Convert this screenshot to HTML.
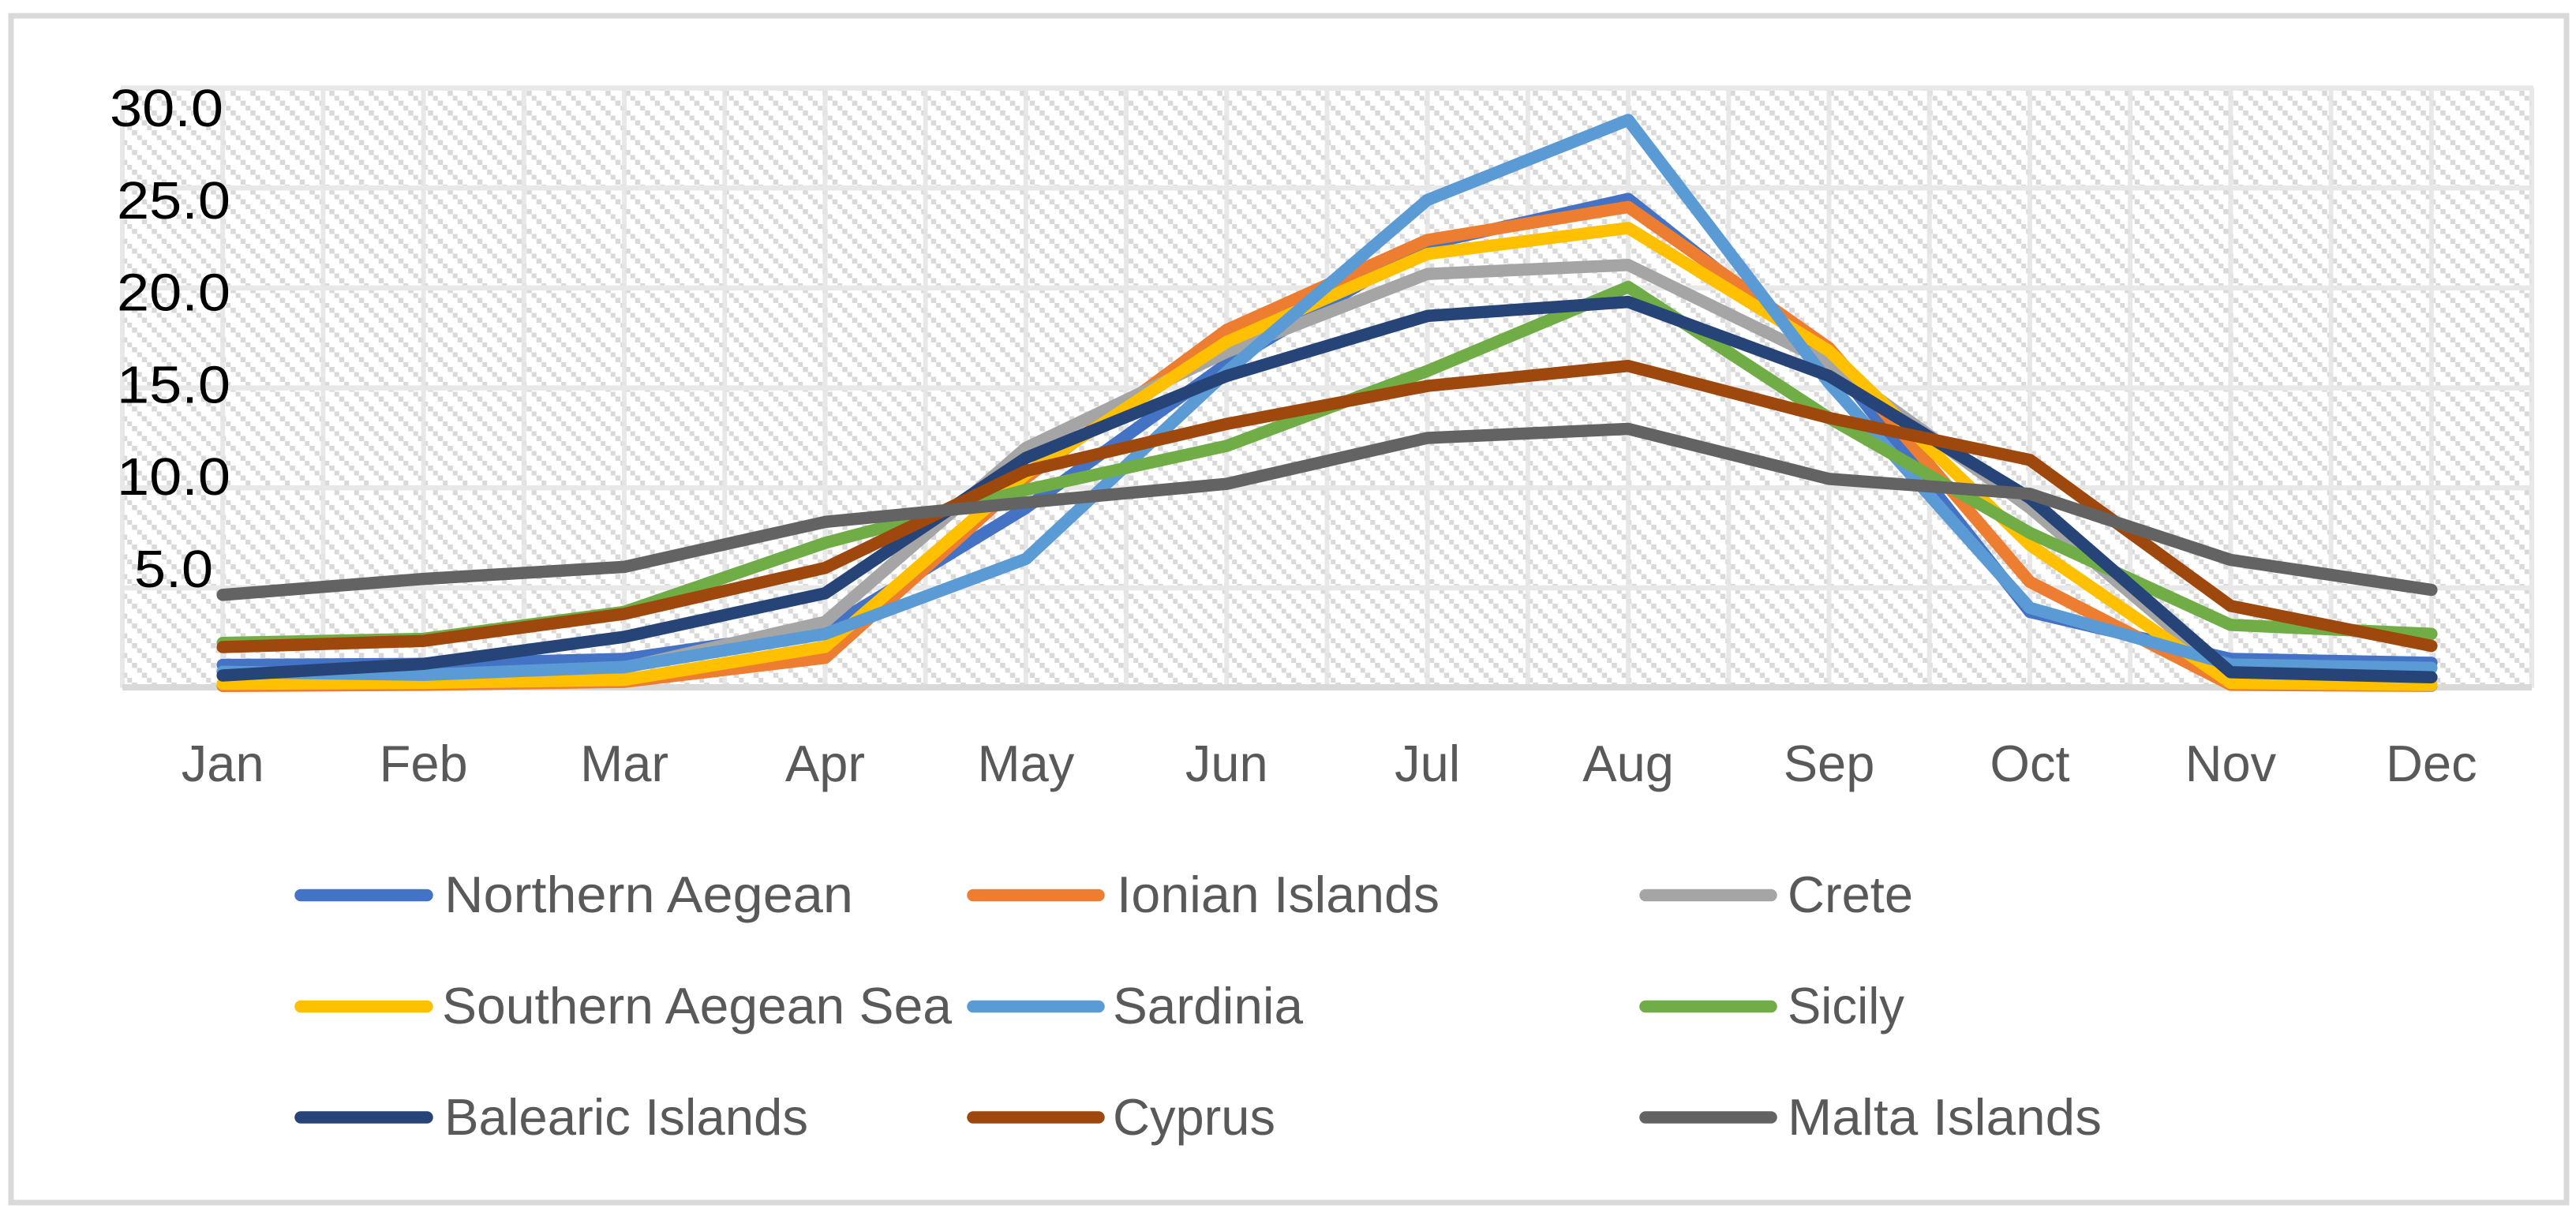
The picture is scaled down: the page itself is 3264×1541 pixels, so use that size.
<!DOCTYPE html>
<html lang="en">
<head>
<meta charset="utf-8">
<title>Monthly values by island region</title>
<style>
html,body{margin:0;padding:0;background:#fff;width:3264px;height:1541px;overflow:hidden}
svg{display:block}
text{font-family:"Liberation Sans",sans-serif}
.leg{font-size:65px;fill:#595959}
</style>
</head>
<body>
<svg id="chart" xmlns="http://www.w3.org/2000/svg" width="3264" height="1541" viewBox="0 0 3264 1541">
  <defs>
    <pattern id="hatch" x="142.25" y="115" width="25" height="25" patternUnits="userSpaceOnUse">
      <rect width="25" height="25" fill="#fff"/>
      <g fill="#d9d9d9" shape-rendering="crispEdges">
        <rect x="0" y="0" width="6.25" height="6.25"/>
        <rect x="6.25" y="6.25" width="6.25" height="6.25"/>
        <rect x="12.5" y="12.5" width="6.25" height="6.25"/>
        <rect x="18.75" y="18.75" width="6.25" height="6.25"/>
      </g>
    </pattern>
  </defs>
  <rect x="14" y="20" width="3238" height="1504" fill="#fff" stroke="#d9d9d9" stroke-width="7"/>
  <rect x="155" y="111" width="3053" height="760" fill="url(#hatch)"/>
  <g id="grid"></g>
  <g id="yaxis"></g>
  <g id="xaxis"></g>
  <g id="series" fill="none" stroke-width="15.5" stroke-linecap="round" stroke-linejoin="round"></g>

  <g>
    <g>
      <line x1="381" y1="1134.5" x2="541" y2="1134.5" stroke="#4472C4" stroke-width="15.5" stroke-linecap="round"/>
      <text class="leg" x="563" y="1156" textLength="518" lengthAdjust="spacingAndGlyphs">Northern Aegean</text>
    </g>
    <g>
      <line x1="1233" y1="1134.5" x2="1392" y2="1134.5" stroke="#ED7D31" stroke-width="15.5" stroke-linecap="round"/>
      <text class="leg" x="1415" y="1156" textLength="409" lengthAdjust="spacingAndGlyphs">Ionian Islands</text>
    </g>
    <g>
      <line x1="2085" y1="1134.5" x2="2244" y2="1134.5" stroke="#A5A5A5" stroke-width="15.5" stroke-linecap="round"/>
      <text class="leg" x="2265" y="1156" textLength="159" lengthAdjust="spacingAndGlyphs">Crete</text>
    </g>
    <g>
      <line x1="381" y1="1275.5" x2="541" y2="1275.5" stroke="#FFC000" stroke-width="15.5" stroke-linecap="round"/>
      <text class="leg" x="560" y="1297" textLength="646" lengthAdjust="spacingAndGlyphs">Southern Aegean Sea</text>
    </g>
    <g>
      <line x1="1233" y1="1275.5" x2="1392" y2="1275.5" stroke="#5B9BD5" stroke-width="15.5" stroke-linecap="round"/>
      <text class="leg" x="1410" y="1297" textLength="241" lengthAdjust="spacingAndGlyphs">Sardinia</text>
    </g>
    <g>
      <line x1="2085" y1="1275.5" x2="2244" y2="1275.5" stroke="#70AD47" stroke-width="15.5" stroke-linecap="round"/>
      <text class="leg" x="2265" y="1297" textLength="148" lengthAdjust="spacingAndGlyphs">Sicily</text>
    </g>
    <g>
      <line x1="381" y1="1416" x2="541" y2="1416" stroke="#264478" stroke-width="15.5" stroke-linecap="round"/>
      <text class="leg" x="563" y="1438" textLength="461" lengthAdjust="spacingAndGlyphs">Balearic Islands</text>
    </g>
    <g>
      <line x1="1233" y1="1416" x2="1392" y2="1416" stroke="#9E480E" stroke-width="15.5" stroke-linecap="round"/>
      <text class="leg" x="1410" y="1438" textLength="206" lengthAdjust="spacingAndGlyphs">Cyprus</text>
    </g>
    <g>
      <line x1="2085" y1="1416" x2="2244" y2="1416" stroke="#636363" stroke-width="15.5" stroke-linecap="round"/>
      <text class="leg" x="2265" y="1438" textLength="398" lengthAdjust="spacingAndGlyphs">Malta Islands</text>
    </g>
  </g>
</svg>
<script>
const months = ["Jan","Feb","Mar","Apr","May","Jun","Jul","Aug","Sep","Oct","Nov","Dec"];
const yTicks = [30,25,20,15,10,5];
const northernAegean = [1.15,1.2,1.45,2.9,9.0,16.2,22.2,24.45,16.5,3.8,1.45,1.25];
const ionianIslands = [0.1,0.15,0.3,1.5,10.5,17.9,22.4,24.05,17.0,5.3,0.15,0.1];
const crete = [0.2,0.3,1.0,3.3,12.0,16.8,20.7,21.15,16.25,9.0,0.5,0.1];
const southernAegeanSea = [0.2,0.25,0.4,2.05,10.7,17.3,21.7,23.0,16.85,7.15,0.25,0.15];
const sardinia = [0.8,0.65,1.05,2.7,6.45,15.8,24.4,28.4,15.25,4.0,1.17,1.0];
const sicily = [2.25,2.45,3.8,7.25,9.9,12.1,15.85,20.05,13.5,7.75,3.15,2.7];
const balearicIslands = [0.62,1.2,2.55,4.73,11.5,15.6,18.6,19.3,15.6,9.5,0.78,0.53];
const cyprus = [2.04,2.35,3.7,6.0,10.85,13.2,15.1,16.1,13.5,11.4,4.1,2.1];
const maltaIslands = [4.65,5.45,6.05,8.3,9.27,10.2,12.5,12.95,10.45,9.7,6.4,4.9];

const NS = "http://www.w3.org/2000/svg";
const plotLeft = 155, plotRight = 3208, plotTop = 111.5, plotBottom = 871.7;
const yMax = 30;
const gridStep = (plotRight - plotLeft) / 24;
function xScale(i){ return plotLeft + gridStep * (2 * i + 1); }
function yScale(v){ return plotBottom - v * (plotBottom - plotTop) / yMax; }

const grid = document.getElementById("grid");
for (let k = 0; k <= 24; k++) {
  const x = plotLeft + gridStep * k;
  const l = document.createElementNS(NS, "line");
  l.setAttribute("x1", x); l.setAttribute("x2", x);
  l.setAttribute("y1", plotTop); l.setAttribute("y2", plotBottom);
  l.setAttribute("stroke", "#e4e4e4");
  l.setAttribute("stroke-opacity", "0.85");
  l.setAttribute("stroke-width", "6");
  
  
  grid.appendChild(l);
}
yTicks.forEach(function (v) {
  const l = document.createElementNS(NS, "line");
  l.setAttribute("x1", plotLeft - 2); l.setAttribute("x2", plotRight + 2);
  l.setAttribute("y1", yScale(v)); l.setAttribute("y2", yScale(v));
  l.setAttribute("stroke", "#e8e8e8");
  l.setAttribute("stroke-width", "6.5");
  
  
  grid.appendChild(l);
});
const axisLine = document.createElementNS(NS, "line");
axisLine.setAttribute("x1", plotLeft); axisLine.setAttribute("x2", plotRight);
axisLine.setAttribute("y1", plotBottom - 0.7); axisLine.setAttribute("y2", plotBottom - 0.7);
axisLine.setAttribute("stroke", "#d9d9d9");
axisLine.setAttribute("stroke-width", "8");


grid.appendChild(axisLine);

const yAxis = document.getElementById("yaxis");
yTicks.forEach(function (v) {
  const label = v.toFixed(1);
  const t = document.createElementNS(NS, "text");
  const width = label.length === 4 ? 144 : 100;
  const right = v === 30 ? 283 : (v === 5 ? 270 : 292);
  t.setAttribute("x", right - width);
  t.setAttribute("y", 744 - (v - 5) * 23.36);
  t.setAttribute("font-size", "67");
  t.setAttribute("fill", "#000");
  t.setAttribute("textLength", width);
  t.setAttribute("lengthAdjust", "spacingAndGlyphs");
  
  
  t.textContent = label;
  yAxis.appendChild(t);
});

const xAxis = document.getElementById("xaxis");
months.forEach(function (m, i) {
  const t = document.createElementNS(NS, "text");
  t.setAttribute("x", xScale(i));
  t.setAttribute("y", 990);
  t.setAttribute("font-size", "65");
  t.setAttribute("fill", "#595959");
  t.setAttribute("text-anchor", "middle");
  
  
  t.textContent = m;
  xAxis.appendChild(t);
});

const seriesGroup = document.getElementById("series");
function drawSeries(values, color, name) {
  const p = document.createElementNS(NS, "polyline");
  p.setAttribute("points", values.map(function (v, i) {
    return xScale(i).toFixed(1) + "," + yScale(v).toFixed(1);
  }).join(" "));
  p.setAttribute("stroke", color);
  
  
  seriesGroup.appendChild(p);
}
drawSeries(northernAegean, "#4472C4", "series-northern-aegean");
drawSeries(ionianIslands, "#ED7D31", "series-ionian-islands");
drawSeries(crete, "#A5A5A5", "series-crete");
drawSeries(southernAegeanSea, "#FFC000", "series-southern-aegean-sea");
drawSeries(sardinia, "#5B9BD5", "series-sardinia");
drawSeries(sicily, "#70AD47", "series-sicily");
drawSeries(balearicIslands, "#264478", "series-balearic-islands");
drawSeries(cyprus, "#9E480E", "series-cyprus");
drawSeries(maltaIslands, "#636363", "series-malta-islands");
</script>
</body>
</html>
